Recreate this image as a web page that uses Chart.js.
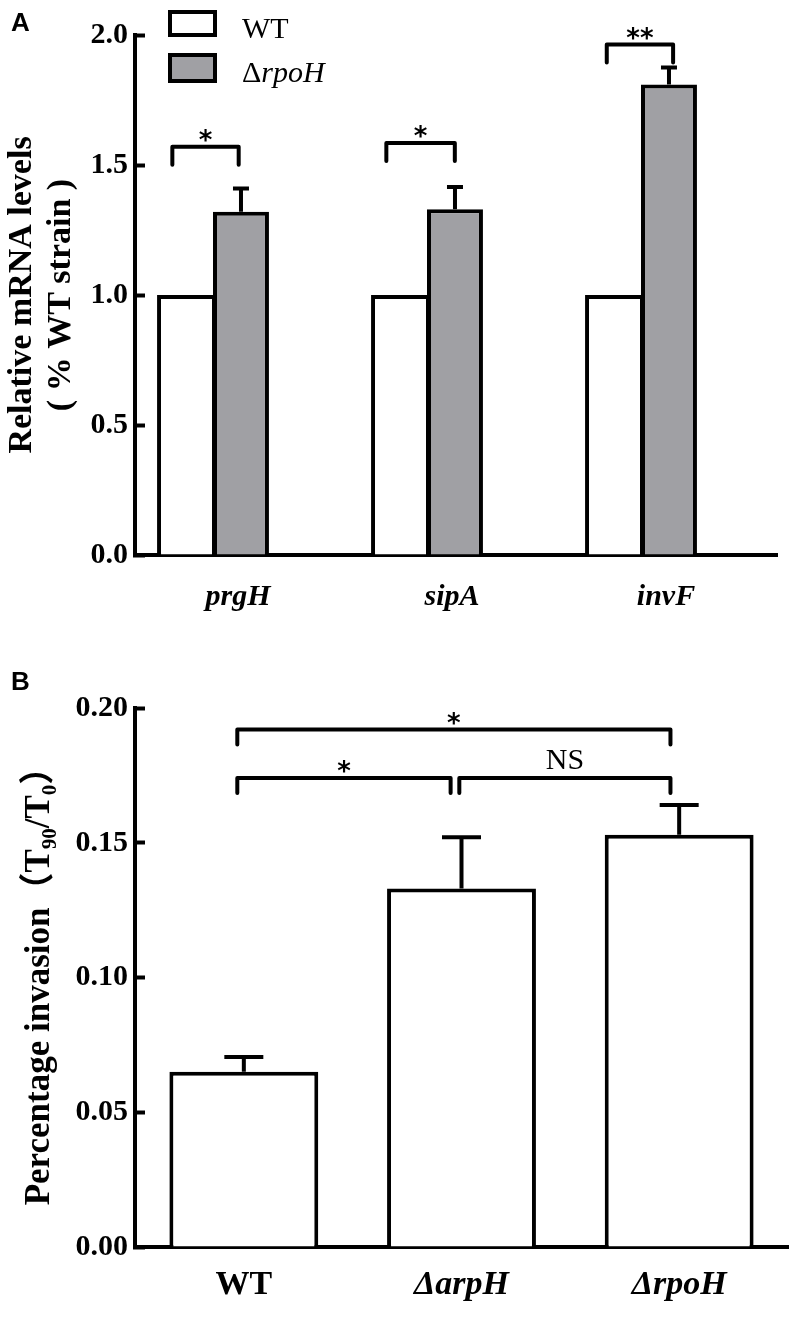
<!DOCTYPE html>
<html>
<head>
<meta charset="utf-8">
<script src="https://cdn.jsdelivr.net/npm/chart.js@4.4.1/dist/chart.umd.min.js"></script>
<style>
  body { margin: 0; background: #fff; }
  .panel { position: absolute; left: 0; width: 800px; }
  #wrapA { top: 0; height: 640px; }
  #wrapB { top: 640px; height: 684px; }
</style>
</head>
<body>
<div class="panel" id="wrapA"><canvas id="chartA"></canvas></div>
<div class="panel" id="wrapB"><canvas id="chartB"></canvas></div>
<script>
// panel A - relative mRNA levels
const genes = ['prgH', 'sipA', 'invF'];
const wtLevels = [1.0, 1.0, 1.0];
const rpoHLevels = [1.32, 1.33, 1.81];
const rpoHErrors = [0.09, 0.085, 0.065];
// significance brackets, x in gene index units
const sigAFrom = [-0.19, 0.81, 1.84];
const sigATo = [0.12, 1.13, 2.15];
const sigAY = [1.57, 1.585, 1.963];
const sigALabels = ['*', '*', '**'];

// panel B - percentage invasion
const strains = ['WT', 'ΔarpH', 'ΔrpoH'];
const invasion = [0.065, 0.133, 0.153];
const invasionErrors = [0.0055, 0.019, 0.011];
const sigBFrom = [-0.03, -0.03, 0.99];
const sigBTo = [1.96, 0.95, 1.96];
const sigBY = [0.192, 0.174, 0.174];
const sigBLabels = ['*', '*', 'NS'];

const SERIF = "'Liberation Serif', 'Times New Roman', 'Noto Sans CJK SC', serif";
const GRAY = '#a0a0a4';

Chart.defaults.font.family = SERIF;
Chart.defaults.color = '#000';

// error bars, brackets, legend and panel letter
const marks = {
  id: 'marks',
  afterDatasetsDraw(chart, args, opts) {
    const { ctx } = chart;
    const xs = chart.scales.x, ys = chart.scales.y;
    ctx.save();
    ctx.strokeStyle = '#000';
    ctx.fillStyle = '#000';
    ctx.lineWidth = 4;

    const meta = chart.getDatasetMeta(opts.errDataset);
    meta.data.forEach((bar, i) => {
      const v = meta.controller.getParsed(i).y;
      const cap = ys.getPixelForValue(v + opts.errors[i]);
      ctx.beginPath();
      ctx.moveTo(bar.x, bar.y);
      ctx.lineTo(bar.x, cap);
      ctx.moveTo(bar.x - opts.capWidth / 2, cap);
      ctx.lineTo(bar.x + opts.capWidth / 2, cap);
      ctx.stroke();
    });

    const br = opts.brackets;
    ctx.lineJoin = 'round';
    ctx.lineCap = 'round';
    ctx.textAlign = 'center';
    ctx.textBaseline = 'alphabetic';
    br.from.forEach((f, k) => {
      const x1 = xs.getPixelForValue(f);
      const x2 = xs.getPixelForValue(br.to[k]);
      const yl = ys.getPixelForValue(br.y[k]);
      ctx.beginPath();
      ctx.moveTo(x1, yl + br.leg);
      ctx.lineTo(x1, yl);
      ctx.lineTo(x2, yl);
      ctx.lineTo(x2, yl + br.leg);
      ctx.stroke();
      const label = br.labels[k];
      if (label === 'NS') {
        ctx.font = '30px ' + SERIF;
        ctx.fillText(label, (x1 + x2) / 2, yl - 9);
      } else {
        ctx.font = "bold 26px 'DejaVu Sans'";
        ctx.fillText(label, (x1 + x2) / 2, yl + 2);
      }
    });
    ctx.restore();
  },
  afterDraw(chart, args, opts) {
    const { ctx } = chart;
    ctx.save();
    ctx.fillStyle = '#000';
    ctx.textAlign = 'left';
    ctx.textBaseline = 'alphabetic';
    ctx.font = "bold 26px 'Liberation Sans'";
    ctx.fillText(opts.letter, 11, opts.letterY);

    if (opts.legend) {
      ctx.lineWidth = 4;
      ctx.strokeStyle = '#000';
      ctx.strokeRect(170, 12, 45, 23);
      ctx.fillStyle = GRAY;
      ctx.fillRect(170, 55, 45, 26);
      ctx.strokeRect(170, 55, 45, 26);
      ctx.fillStyle = '#000';
      ctx.font = '30px ' + SERIF;
      ctx.fillText('WT', 242, 38);
      ctx.fillText('Δ', 242, 82);
      const dw = ctx.measureText('Δ').width;
      ctx.font = 'italic 30px ' + SERIF;
      ctx.fillText('rpoH', 242 + dw, 82);
    }
    ctx.restore();
  },
};

const yGrid = { drawOnChartArea: false, drawTicks: true, tickLength: -10, tickWidth: 4, color: '#000' };
const axisBorder = { color: '#000', width: 4 };

new Chart(document.getElementById('chartA'), {
  type: 'bar',
  data: {
    datasets: [
      {
        label: 'WT',
        data: genes.map((g, i) => ({ x: i, y: wtLevels[i] })),
        backgroundColor: '#fff',
        borderColor: '#000',
        borderWidth: { top: 4, left: 4, right: 1, bottom: 0 },
        categoryPercentage: 0.523,
        barPercentage: 1,
      },
      {
        label: 'ΔrpoH',
        data: genes.map((g, i) => ({ x: i, y: rpoHLevels[i] })),
        backgroundColor: GRAY,
        borderColor: '#000',
        borderWidth: { top: 4, left: 4, right: 4, bottom: 0 },
        categoryPercentage: 0.523,
        barPercentage: 1,
      },
    ],
  },
  options: {
    responsive: true,
    maintainAspectRatio: false,
    animation: false,
    layout: { padding: { top: 19, right: 23, left: 0, bottom: 0 } },
    scales: {
      x: {
        type: 'linear',
        offset: false,
        min: -0.3645,
        max: 2.6355,
        afterBuildTicks: s => { s.ticks = genes.map((g, i) => ({ value: i })); },
        afterFit: s => { s.height = 85; },
        grid: { display: false, drawTicks: false, offset: false },
        border: axisBorder,
        ticks: {
          callback: (v, i) => genes[i],
          labelOffset: 25,
          padding: 24,
          maxRotation: 0,
          font: { size: 30, weight: 'bold', style: 'italic' },
        },
      },
      y: {
        min: 0,
        max: 2,
        afterFit: s => { s.width = 135; },
        grid: yGrid,
        border: axisBorder,
        ticks: {
          stepSize: 0.5,
          padding: 17,
          callback: v => v.toFixed(1),
          font: { size: 30, weight: 'bold' },
        },
        title: {
          display: true,
          text: ['Relative mRNA levels', '( % WT strain )'],
          font: { size: 34, weight: 'bold', lineHeight: 1.15 },
          padding: { top: 3, bottom: 0 },
        },
      },
    },
    plugins: {
      legend: { display: false },
      tooltip: { enabled: false },
      marks: {
        letter: 'A',
        letterY: 31,
        legend: true,
        errDataset: 1,
        errors: rpoHErrors,
        capWidth: 16,
        brackets: { from: sigAFrom, to: sigATo, y: sigAY, labels: sigALabels, leg: 18 },
      },
    },
  },
  plugins: [marks],
});

new Chart(document.getElementById('chartB'), {
  type: 'bar',
  data: {
    labels: strains,
    datasets: [{
      label: 'Percentage invasion',
      data: invasion,
      backgroundColor: '#fff',
      borderColor: '#000',
      borderWidth: 4,
      categoryPercentage: 1,
      barPercentage: 0.684,
    }],
  },
  options: {
    responsive: true,
    maintainAspectRatio: false,
    animation: false,
    layout: { padding: { top: 68, right: 12, left: 0, bottom: 0 } },
    scales: {
      x: {
        afterFit: s => { s.height = 77; },
        grid: { display: false, drawTicks: false },
        border: axisBorder,
        ticks: {
          padding: 18,
          maxRotation: 0,
          font: ctx => ({ size: 34, weight: 'bold', style: ctx.index === 0 ? 'normal' : 'italic' }),
        },
      },
      y: {
        min: 0,
        max: 0.2,
        afterFit: s => { s.width = 135; },
        grid: yGrid,
        border: axisBorder,
        ticks: {
          stepSize: 0.05,
          padding: 17,
          callback: v => v.toFixed(2),
          font: { size: 30, weight: 'bold' },
        },
        title: {
          display: true,
          text: 'Percentage invasion（T₉₀/T₀）',
          font: { size: 35, weight: 'bold', lineHeight: 1.2 },
          padding: { top: 19, bottom: 0 },
        },
      },
    },
    plugins: {
      legend: { display: false },
      tooltip: { enabled: false },
      marks: {
        letter: 'B',
        letterY: 50,
        legend: false,
        errDataset: 0,
        errors: invasionErrors,
        capWidth: 39,
        brackets: { from: sigBFrom, to: sigBTo, y: sigBY, labels: sigBLabels, leg: 15 },
      },
    },
  },
  plugins: [marks],
});
</script>
</body>
</html>
